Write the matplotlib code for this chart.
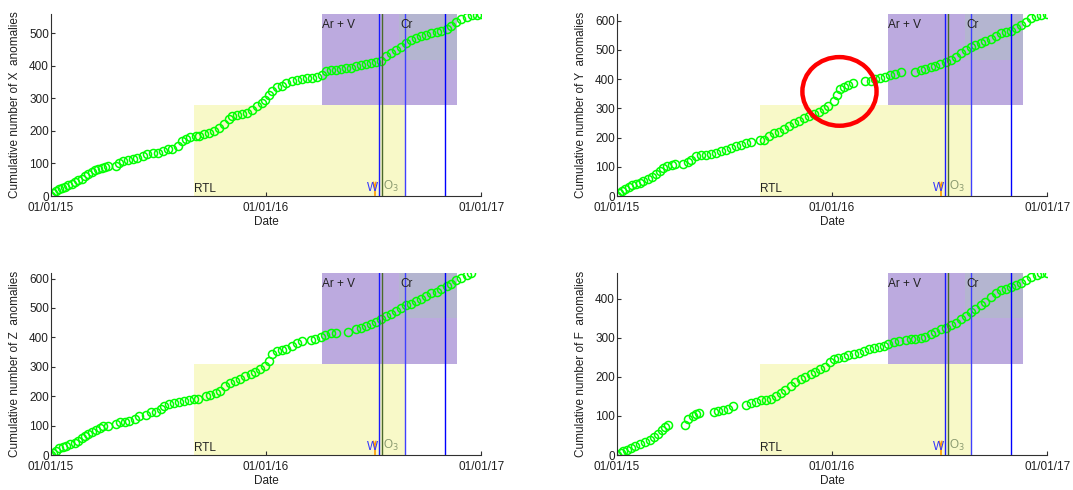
import numpy as np
import matplotlib
matplotlib.use("Agg")
import matplotlib.pyplot as plt
import matplotlib.dates as mdates
from matplotlib.patches import Ellipse

plt.rcParams['font.family'] = ['Liberation Sans', 'DejaVu Sans']

START = np.datetime64('2015-01-01')

# ---- données (jours depuis le 01/01/15, cumul) ----
days_x = [0, 4, 8, 13, 18, 24, 29, 35, 41, 46, 52, 57, 63, 69, 74, 80, 86, 91, 97,
          111, 116, 123, 131, 139, 147, 156, 164, 173, 181,
          190, 198, 206, 215, 222, 229, 237, 246, 251, 260,
          268, 277, 285, 294, 302, 308, 316, 325, 333, 341,
          350, 358, 364, 370, 375, 384, 392, 400, 410, 418,
          427, 435, 444, 452, 461, 467, 475, 484, 492, 501,
          509, 518, 526, 535, 543, 553, 561, 569, 578, 586,
          595, 603, 612, 620, 629, 638, 646, 655, 663, 672,
          680, 688, 697, 706, 715, 723, 731]
count_x = [0, 8, 15, 20, 24, 29, 33, 38, 43, 48, 53, 61, 69, 73, 80, 84, 87, 90, 92,
           92, 102, 108, 110, 114, 118, 124, 129, 131, 133,
           137, 143, 145, 153, 168, 176, 180, 184, 184, 189,
           194, 201, 209, 222, 238, 245, 249, 251, 255, 263,
           276, 286, 296, 311, 324, 335, 339, 347, 353, 357,
           359, 361, 363, 365, 371, 383, 386, 388, 390, 392,
           394, 398, 402, 406, 408, 412, 416, 429, 439, 449,
           459, 469, 478, 485, 490, 494, 500, 505, 508, 514,
           522, 535, 545, 551, 555, 557, 559]

days_y = [0, 4, 9, 14, 20, 25, 33, 39, 45, 52, 59, 66, 73, 79, 85, 93, 98,
          112, 121, 126, 135, 143, 152,
          160, 168, 177, 185, 194, 202, 211, 219, 227,
          243, 250, 258, 267, 275, 284, 292, 300, 309, 317,
          326, 334, 343, 351, 359, 368, 373, 379, 386, 393, 401,
          422, 431, 439, 447, 456, 464, 473, 482,
          507, 516, 524, 533, 541, 549, 559, 567, 576, 584,
          593, 601, 609, 618, 626, 636, 644, 653, 661, 669,
          678, 686, 695, 704, 712, 721, 730]
count_y = [0, 9, 17, 25, 32, 38, 42, 45, 50, 57, 66, 74, 85, 97, 102, 106, 108,
           108, 116, 123, 136, 141, 142,
           144, 148, 153, 157, 165, 170, 174, 180, 184,
           191, 193, 205, 214, 220, 230, 239, 250, 257, 266,
           273, 280, 289, 298, 309, 324, 347, 366, 373, 380, 386,
           392, 395, 400, 403, 409, 414, 418, 423,
           426, 430, 434, 440, 445, 452, 459, 466, 475, 489,
           500, 509, 517, 525, 532, 539, 548, 557, 561, 566,
           574, 584, 595, 608, 616, 619, 623]

days_z = [0, 4, 8, 14, 21, 26, 33, 40, 46, 52, 57, 63, 70, 77, 84, 89, 97,
          111, 118, 125, 133, 142, 150,
          161, 170, 178, 187, 192, 201, 209, 218, 226, 235, 243, 249,
          263, 271, 280, 288, 296, 305, 313, 322, 330, 339,
          347, 355, 364, 370, 375, 384, 392, 400, 410, 418, 427,
          441, 449, 458, 466, 475, 484, 505,
          518, 526, 535, 543, 553, 561, 569, 578, 586, 595,
          603, 612, 620, 629, 638, 646, 655, 663, 672, 680,
          688, 697, 706, 713]
count_z = [0, 7, 15, 23, 28, 32, 36, 41, 49, 57, 66, 71, 77, 86, 93, 97, 99,
           104, 111, 113, 116, 124, 133,
           136, 145, 147, 156, 167, 172, 176, 181, 184, 188, 192, 192,
           199, 203, 210, 218, 233, 244, 251, 258, 267, 275,
           283, 292, 303, 320, 342, 354, 357, 362, 371, 380, 388,
           391, 393, 400, 409, 414, 416, 418,
           427, 432, 438, 445, 454, 463, 472, 481, 489, 499,
           509, 515, 524, 531, 542, 551, 556, 565, 574, 583,
           594, 602, 612, 619]

days_f = [0, 6, 11, 17, 24, 31, 39, 48, 56, 63, 70, 76, 81, 87,
          115, 121, 129, 135, 140,
          164, 171, 180, 188, 197,
          219, 227, 236, 244, 253, 261, 270, 278, 286, 295,
          303, 312, 320, 329, 337, 345, 354, 362, 368, 376,
          385, 393, 403, 411, 419, 428, 436, 445, 453, 461,
          470, 479, 491, 499, 507, 516, 524, 533, 541, 550,
          559, 567, 576, 584, 593, 601, 609, 618, 626, 636,
          644, 653, 661, 669, 678, 686, 695, 704, 713, 721, 731]
count_f = [0, 5, 9, 12, 17, 22, 28, 34, 39, 45, 54, 65, 71, 77,
           77, 92, 100, 104, 107,
           111, 112, 116, 119, 126,
           129, 134, 136, 140, 140, 143, 150, 160, 167, 177,
           187, 194, 199, 207, 213, 220, 226, 237, 245, 248,
           252, 255, 258, 262, 266, 271, 274, 277, 279, 283,
           289, 292, 294, 296, 298, 300, 303, 309, 315, 322,
           326, 332, 339, 347, 357, 366, 374, 383, 391, 405,
           415, 422, 426, 429, 434, 441, 448, 456, 461, 465, 466]

panels = [('X', days_x, count_x, [0, 100, 200, 300, 400, 500]),
          ('Y', days_y, count_y, [0, 100, 200, 300, 400, 500, 600]),
          ('Z', days_z, count_z, [0, 100, 200, 300, 400, 500, 600]),
          ('F', days_f, count_f, [0, 100, 200, 300, 400])]

# périodes et événements
rtl = ('2015-09-01', '2016-08-25')
ar_v = ('2016-04-06', '2016-11-20')
cr = ('2016-08-14', '2016-11-20')
lignes = [('2016-07-11', '#1a1aff'), ('2016-07-16', '#4a6a2a'),
          ('2016-08-25', '#4040ff'), ('2016-11-01', '#0000ff')]
xticks = ['2015-01-01', '2016-01-01', '2017-01-01']

# position des axes (fraction de la figure)
positions = [[0.0475, 0.600, 0.401, 0.3714],
             [0.575, 0.600, 0.401, 0.3714],
             [0.0475, 0.0714, 0.401, 0.3715],
             [0.575, 0.0714, 0.401, 0.3715]]


def d(s):
    return mdates.date2num(np.datetime64(s))


fig = plt.figure(figsize=(10.73, 4.90), dpi=100)
axe_col = '#303030'

for (nom, jours, cumul, yt), pos in zip(panels, positions):
    ax = fig.add_axes(pos)
    dates = START + np.array(jours).astype('timedelta64[D]')
    ymax = max(cumul)

    # zones colorées
    ax.axvspan(d(rtl[0]), d(rtl[1]), ymin=0, ymax=0.5, color='#f8f9c8', lw=0, zorder=0.5)
    ax.axvspan(d(ar_v[0]), d(ar_v[1]), ymin=0.5, ymax=1, color='#bcaadf', lw=0, zorder=0.6)
    ax.axvspan(d(cr[0]), d(cr[1]), ymin=0.75, ymax=1, color='#b4b5d0', lw=0, zorder=0.7)

    ax.plot(dates, cumul, 'o', mfc='none', mec='#00ff00', mew=1.1, ms=5.8, zorder=2)

    for date, c in lignes:
        ax.axvline(d(date), color=c, lw=1.0, zorder=2.5)

    tr = ax.get_xaxis_transform()
    # petit trait orange sous le W
    xw = d(lignes[0][0]) - 7
    ax.plot([xw, xw], [0.0, 0.045], transform=tr, color='#ff9900', lw=1.2, zorder=4)
    ax.plot([xw - 2, xw, xw + 2], [0.075, 0.045, 0.075], transform=tr,
            color='#ff9900', lw=1.0, zorder=4)
    ax.text(d(rtl[0]), 0.005, 'RTL', transform=tr, fontsize=8.5, color='#222222',
            ha='left', va='bottom', zorder=4)
    ax.text(d(ar_v[0]), 0.975, 'Ar + V', transform=tr, fontsize=8.5, color='#222222',
            ha='left', va='top', zorder=4)
    ax.text(d(cr[0]) + 2, 0.975, 'Cr', transform=tr, fontsize=8.5, color='#222222',
            ha='left', va='top', zorder=4)
    ax.text(d(lignes[0][0]) - 1, 0.01, 'W', transform=tr, fontsize=8.5, color='#3333ff',
            ha='right', va='bottom', zorder=4.5)
    ax.text(d(lignes[1][0]) + 2, 0.01, 'O$_3$', transform=tr, fontsize=8.5, color='#8a9a70',
            ha='left', va='bottom', zorder=4)

    if nom == 'Y':
        ax.add_patch(Ellipse((d('2016-01-14'), 358), width=126, height=235,
                             fill=False, ec='#ff0000', lw=3.2, zorder=5))

    ax.set_xlim(d('2015-01-01'), d('2017-01-01'))
    ax.set_ylim(0, ymax)
    ax.set_xticks([d(t) for t in xticks])
    ax.xaxis.set_major_formatter(mdates.DateFormatter('%m/%d/%y'))
    ax.set_yticks(yt)

    for s in ['top', 'right']:
        ax.spines[s].set_visible(False)
    for s in ['left', 'bottom']:
        ax.spines[s].set_color(axe_col)
        ax.spines[s].set_linewidth(0.8)
    ax.tick_params(direction='in', length=3, width=0.8, colors=axe_col,
                   labelsize=8.5, labelcolor='#202020')
    ax.tick_params(axis='y', pad=1.5)
    ax.tick_params(axis='x', pad=4)

    ax.set_xlabel('Date', fontsize=8.5, color='#202020', labelpad=2)
    ax.set_ylabel('Cumulative number of %s  anomalies' % nom, fontsize=8.5,
                  color='#202020', labelpad=6)

fig.savefig('out.png', dpi=100, facecolor='white')
